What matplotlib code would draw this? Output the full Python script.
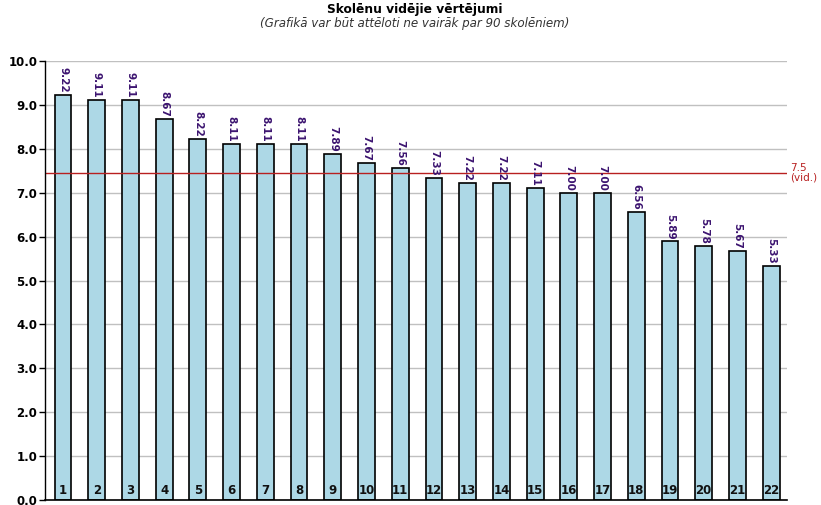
import matplotlib
matplotlib.use("Agg")
import matplotlib.pyplot as plt

students = [str(i) for i in range(1, 23)]
values = [9.22, 9.11, 9.11, 8.67, 8.22, 8.11, 8.11, 8.11, 7.89, 7.67, 7.56,
          7.33, 7.22, 7.22, 7.11, 7.00, 7.00, 6.56, 5.89, 5.78, 5.67, 5.33]
avg_value = 7.45
avg_label = "7.5\n(vid.)"
title = "Skolēnu vidējie vērtējumi"
subtitle = "(Grafikā var būt attēloti ne vairāk par 90 skolēniem)"
yticks = [0.0, 1.0, 2.0, 3.0, 4.0, 5.0, 6.0, 7.0, 8.0, 9.0, 10.0]

fig = plt.figure(figsize=(8.21, 5.05), dpi=100)
ax = fig.add_axes([45/821, 5/505, (787-45)/821, (500-61)/505])
x = list(range(1, len(values) + 1))
ax.set_axisbelow(True)
ax.yaxis.grid(True, color="#c0c0c0", linewidth=1)
ax.bar(x, values, width=0.5, color="#add8e6", edgecolor="black", linewidth=1.2)
for xi, v, s in zip(x, values, students):
    ax.text(xi, v + 0.05, f"{v:.2f}", rotation=270, ha="center", va="bottom",
            fontsize=7.5, fontweight="bold", color="#3c1470")
    ax.text(xi, 0.07, s, ha="center", va="bottom", fontsize=8.5,
            fontweight="bold", color="#111111")
ax.axhline(avg_value, color="#b82020", linewidth=1)
ax.text(1.004, avg_value, avg_label, transform=ax.get_yaxis_transform(),
        ha="left", va="center", fontsize=7.5, color="#b82020", linespacing=0.9)
ax.set_xlim(0.466, 22.47)
ax.set_ylim(0, 10)
ax.set_yticks(yticks)
ax.set_yticklabels([f"{t:.1f}" for t in yticks], fontsize=8.5, fontweight="bold")
ax.set_xticks([])
for s in ["top", "right"]:
    ax.spines[s].set_visible(False)
ax.spines["left"].set_linewidth(1)
ax.spines["bottom"].set_linewidth(1.2)
ax.tick_params(axis="y", length=4, width=1, pad=1.5)
fig.text(415/821, 1 - 10/505, title, ha="center", va="center", fontsize=8.8,
         fontweight="bold")
fig.text(415/821, 1 - 23/505, subtitle, ha="center", va="center", fontsize=8.6,
         style="italic", color="#333333")
fig.savefig("out.png", dpi=100)
